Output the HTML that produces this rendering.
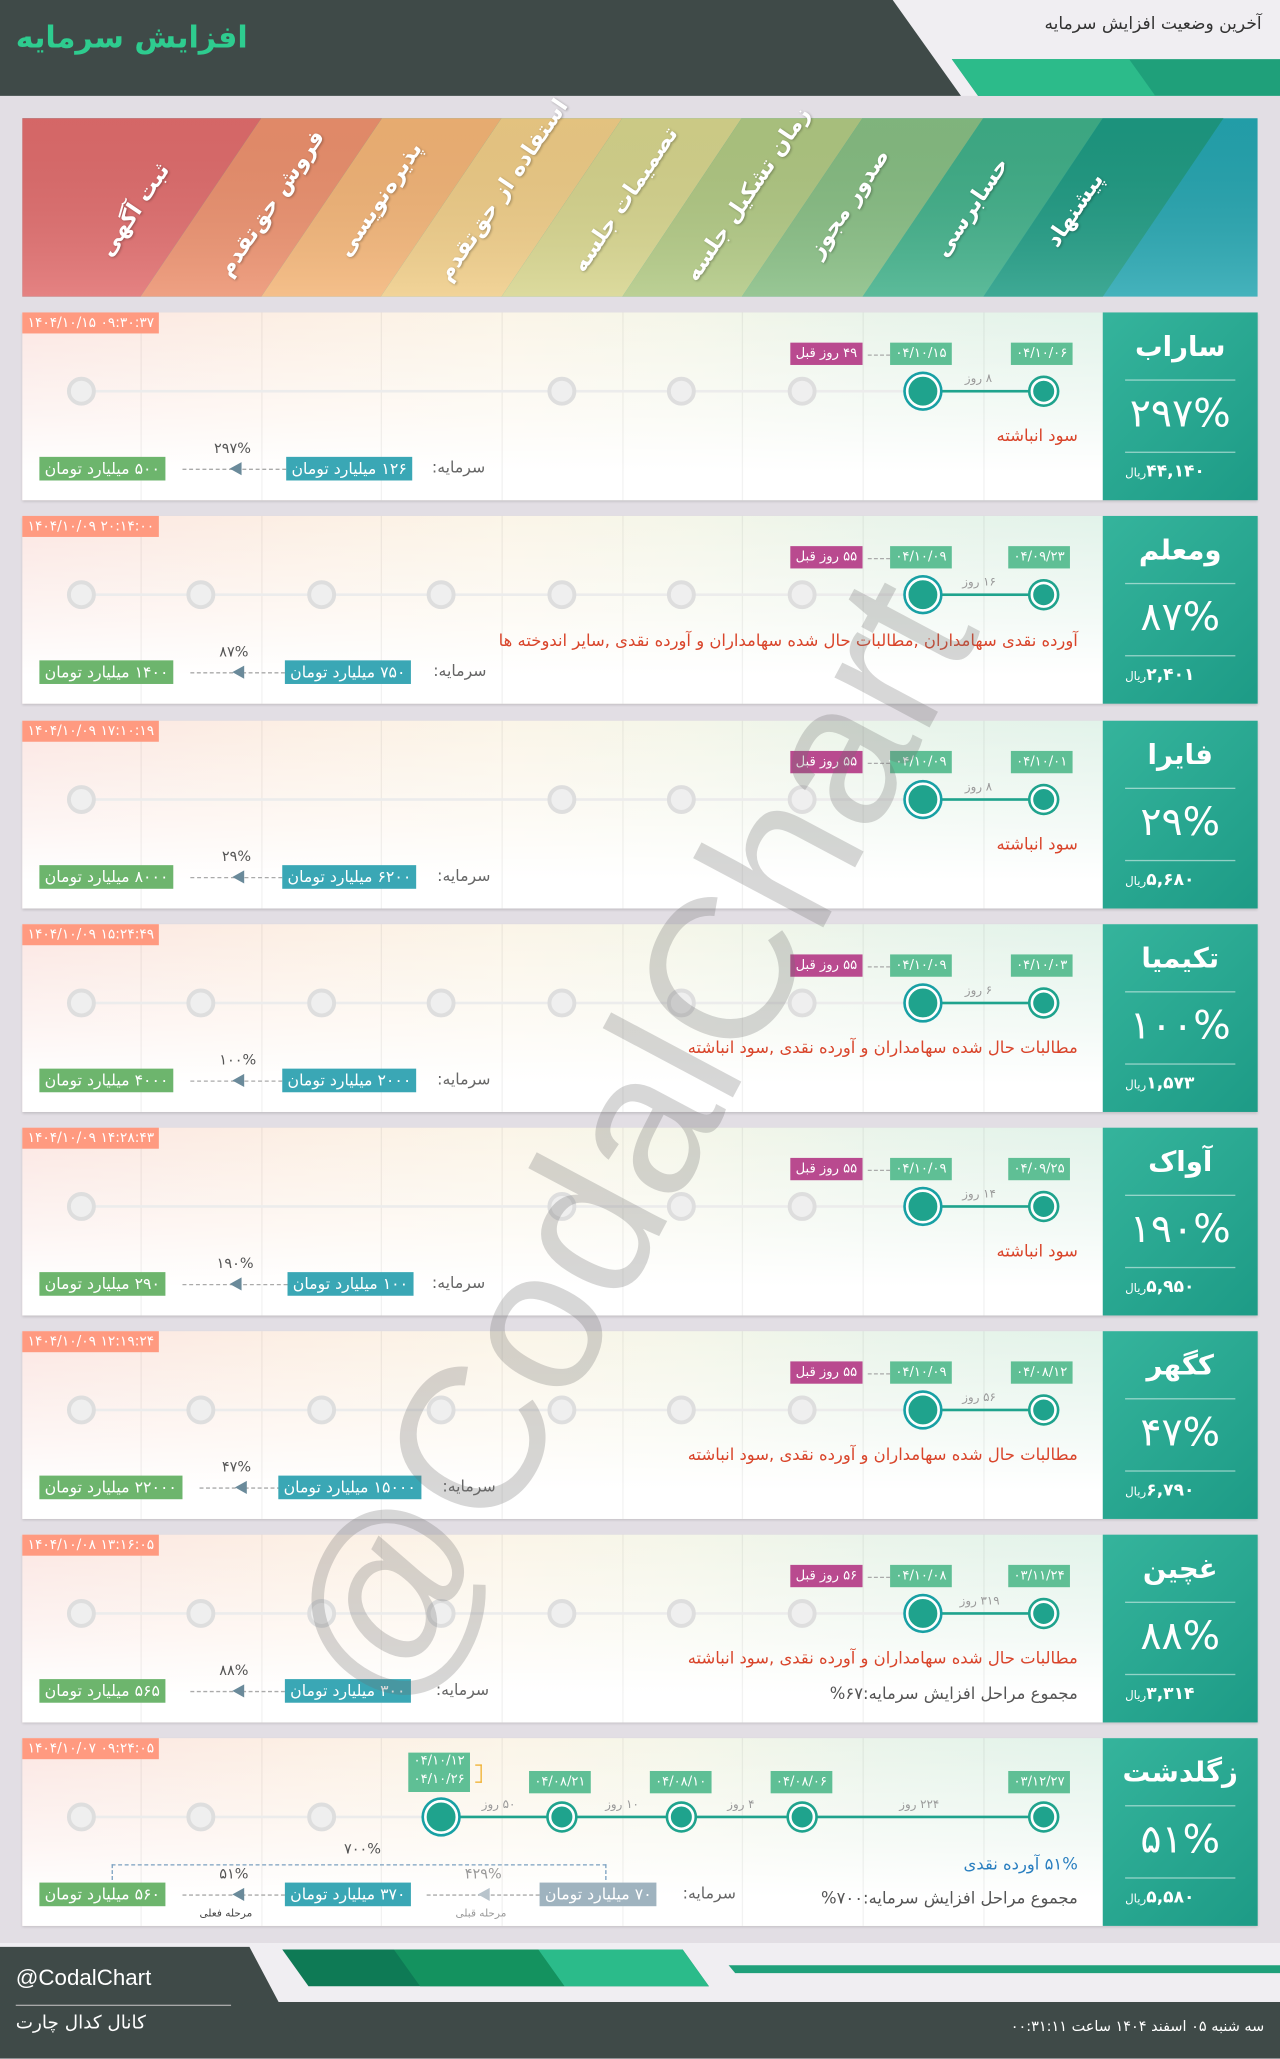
<!DOCTYPE html>
<html><head><meta charset="utf-8">
<style>
*{margin:0;padding:0;box-sizing:border-box}
html,body{width:1280px;height:2058px;overflow:hidden;background:#e2dee4}
#w{position:absolute;left:0;top:0;width:975px;height:1568px;transform:scale(1.31282);transform-origin:0 0;font-family:"DejaVu Sans","Liberation Sans",sans-serif;background:#e2dee4;overflow:hidden}
.ab{position:absolute}
.row{position:absolute;left:17px;width:941px;height:143px;box-shadow:0 1px 2px rgba(0,0,0,.15)}
.rbg{position:absolute;left:0;top:0;width:823px;height:143px;background:linear-gradient(90deg,#fbe6e2 0%,#fcefe4 25%,#fbf5e8 45%,#f4f6e9 62%,#e9f4ea 80%,#e2f3ea 100%)}
.rbg:after{content:"";position:absolute;left:0;top:0;right:0;bottom:0;background:linear-gradient(180deg,rgba(255,255,255,0) 0%,rgba(255,255,255,.6) 55%,#fff 85%)}
.vl{position:absolute;top:0;width:1px;height:143px;background:rgba(0,0,0,.05)}
.pan{position:absolute;left:823px;top:0;width:118px;height:143px;background:linear-gradient(135deg,#35b49c,#1d9b86);color:#fff;text-align:center}
.pan .n{position:absolute;left:0;right:0;top:14px;font-size:21px;font-weight:bold}
.pan .l1,.pan .l2{position:absolute;left:17px;width:84px;height:1px;background:rgba(255,255,255,.5)}
.pan .l1{top:51px}.pan .l2{top:106px}
.pan .p{position:absolute;left:0;right:0;top:60px;font-size:30px}
.pan .pr{position:absolute;left:17px;top:114px;font-size:13px;font-weight:bold;direction:rtl;text-align:left;width:84px}
.pan .pr small{font-size:9px;font-weight:normal}
.ts{position:absolute;left:0;top:0;height:16px;background:#ff9a80;color:#fff;font-size:10.5px;line-height:16px;padding:0 4px;direction:ltr}
.gl{position:absolute;left:45px;width:641px;top:59px;height:2px;background:#ececec}
.c{position:absolute;top:49px;width:22px;height:22px;margin-left:-11px;border-radius:50%;border:3px solid #dedede;background:#efefef}
.a1{position:absolute;top:47px;width:26px;height:26px;margin-left:-13px;border-radius:50%;background:#1fa38d;border:2px solid #fff;box-shadow:0 0 0 2px #18a0a4}
.a2{position:absolute;top:50px;width:20px;height:20px;margin-left:-10px;border-radius:50%;background:#1fa38d;border:2px solid #fff;box-shadow:0 0 0 2px #1fa38d}
.tl{position:absolute;top:59px;height:2px;background:#1fa38d}
.dd{position:absolute;top:68px;font-size:9px;color:#999;direction:rtl}
.gb{position:absolute;height:17px;line-height:17px;font-size:10px;color:#fff;background:#5fbf95;padding:0 4px;direction:rtl;white-space:nowrap}
.mb{background:#b94a8f}
.ds{position:absolute;height:0;border-top:1px dashed #aaa}
.rt{position:absolute;right:137px;font-size:12.5px;color:#d9452b;direction:rtl;white-space:nowrap}
.bt{position:absolute;font-size:12.5px;color:#555;direction:rtl;white-space:nowrap}
.gg{position:absolute;top:110px;height:18px;line-height:18px;font-size:12px;color:#fff;background:#6db56d;padding:0 4px;direction:rtl;white-space:nowrap}
.tb{background:#3aa7b5}
.sr{position:absolute;top:111px;font-size:12px;color:#666;direction:rtl}
.tri{position:absolute;top:114px;width:0;height:0;border-top:5px solid transparent;border-bottom:5px solid transparent;border-right:9px solid #6a8a9a}
.pc{position:absolute;top:97px;font-size:11px;color:#555}
</style></head><body><div id="w">

<div class="ab" style="left:0;top:0;width:975px;height:73px;background:#f0eef2"></div>
<svg class="ab" style="left:0;top:0" width="975" height="80">
<polygon points="0,0 680,0 732,73 0,73" fill="#3f4a48"/>
<polygon points="725,45 975,45 975,73 745,73" fill="#1fa07a"/>
<polygon points="725,45 860,45 880,73 745,73" fill="#2cbb8a"/>
</svg>
<div class="ab" style="left:12px;top:16px;font-size:23px;font-weight:bold;color:#2ecc8f;direction:rtl">افزایش سرمایه</div>
<div class="ab" style="right:14px;top:11px;font-size:13px;color:#333;direction:rtl">آخرین وضعیت افزایش سرمایه</div>

<svg class="ab" style="left:17px;top:90px" width="941" height="136">
<defs><clipPath id="cp"><rect width="941" height="136"/></clipPath>
<linearGradient id="fd" x1="0" y1="0" x2="0" y2="1"><stop offset="0" stop-color="#000" stop-opacity=".05"/><stop offset="1" stop-color="#fff" stop-opacity=".15"/></linearGradient></defs>
<g clip-path="url(#cp)">
<rect width="941" height="136" fill="#24a5b0"/>
<polygon points="-100,0 182,0 90,136 -100,136" fill="#e06c6c"/>
<polygon points="182,0 274,0 182,136 90,136" fill="#ec906d"/>
<polygon points="274,0 365,0 273,136 182,136" fill="#f3b476"/>
<polygon points="365,0 457,0 365,136 273,136" fill="#efcc86"/>
<polygon points="457,0 548,0 457,136 365,136" fill="#d6d48c"/>
<polygon points="548,0 640,0 548,136 457,136" fill="#b0c882"/>
<polygon points="640,0 732,0 640,136 548,136" fill="#86bd82"/>
<polygon points="732,0 823,0 732,136 640,136" fill="#3faf88"/>
<polygon points="823,0 915,0 823,136 732,136" fill="#1d9a82"/>
<rect width="941" height="136" fill="url(#fd)"/>
</g>
</svg>
<div class="ab" style="left:17px;top:90px;width:941px;height:136px;color:#fff;font-weight:bold;font-size:17px;text-shadow:0 1px 2px rgba(0,0,0,.3)">
<div class="ab" style="left:45px;top:60px;transform:rotate(-56deg);white-space:nowrap;direction:rtl">ثبت آگهی</div>
<div class="ab" style="left:125px;top:55px;transform:rotate(-56deg);white-space:nowrap;direction:rtl">فروش حق‌تقدم</div>
<div class="ab" style="left:222px;top:52px;transform:rotate(-56deg);white-space:nowrap;direction:rtl">پذیره‌نویسی</div>
<div class="ab" style="left:285px;top:45px;transform:rotate(-56deg);white-space:nowrap;direction:rtl">استفاده از حق‌تقدم</div>
<div class="ab" style="left:395px;top:52px;transform:rotate(-56deg);white-space:nowrap;direction:rtl">تصمیمات جلسه</div>
<div class="ab" style="left:475px;top:48px;transform:rotate(-56deg);white-space:nowrap;direction:rtl">زمان تشکیل جلسه</div>
<div class="ab" style="left:582px;top:55px;transform:rotate(-56deg);white-space:nowrap;direction:rtl">صدور مجوز</div>
<div class="ab" style="left:680px;top:58px;transform:rotate(-56deg);white-space:nowrap;direction:rtl">حسابرسی</div>
<div class="ab" style="left:770px;top:60px;transform:rotate(-56deg);white-space:nowrap;direction:rtl">پیشنهاد</div>
</div>

<div class="row" style="top:238px">
<div class="rbg"></div>
<div class="vl" style="left:90px"></div><div class="vl" style="left:182px"></div><div class="vl" style="left:273px"></div><div class="vl" style="left:365px"></div><div class="vl" style="left:457px"></div><div class="vl" style="left:548px"></div><div class="vl" style="left:640px"></div><div class="vl" style="left:732px"></div>
<div class="ts">۱۴۰۴/۱۰/۱۵ ۰۹:۳۰:۳۷</div>
<div class="gl"></div>
<div class="c" style="left:45px"></div><div class="c" style="left:411px"></div><div class="c" style="left:502px"></div><div class="c" style="left:594px"></div>
<div class="tl" style="left:686px;width:92px"></div>
<div class="a1" style="left:686px"></div><div class="a2" style="left:778px"></div>
<div class="dd" style="left:718px;top:46px">۸ روز</div>
<div class="gb" style="left:753px;top:23px">۰۴/۱۰/۰۶</div>
<div class="gb" style="left:661px;top:23px">۰۴/۱۰/۱۵</div>
<div class="ds" style="left:644px;width:17px;top:32px"></div>
<div class="gb mb" style="left:585px;top:23px">۴۹ روز قبل</div>
<div class="rt" style="top:86px">سود انباشته</div>
<div class="gg" style="left:13px">۵۰۰ میلیارد تومان</div>
<div class="ds" style="left:122px;width:79px;top:119px"></div><div class="tri" style="left:158px"></div>
<div class="pc" style="left:146px">۲۹۷%</div>
<div class="gg tb" style="left:201px">۱۲۶ میلیارد تومان</div>
<div class="sr" style="left:312px">سرمایه:</div>
<div class="pan"><div class="n">ساراب</div><div class="l1"></div><div class="p">۲۹۷%</div><div class="l2"></div><div class="pr">۴۴,۱۴۰<small>ریال</small></div></div>
</div>

<div class="row" style="top:393px">
<div class="rbg"></div>
<div class="vl" style="left:90px"></div><div class="vl" style="left:182px"></div><div class="vl" style="left:273px"></div><div class="vl" style="left:365px"></div><div class="vl" style="left:457px"></div><div class="vl" style="left:548px"></div><div class="vl" style="left:640px"></div><div class="vl" style="left:732px"></div>
<div class="ts">۱۴۰۴/۱۰/۰۹ ۲۰:۱۴:۰۰</div>
<div class="gl"></div>
<div class="c" style="left:45px"></div><div class="c" style="left:136px"></div><div class="c" style="left:228px"></div><div class="c" style="left:319px"></div><div class="c" style="left:411px"></div><div class="c" style="left:502px"></div><div class="c" style="left:594px"></div>
<div class="tl" style="left:686px;width:92px"></div>
<div class="a1" style="left:686px"></div><div class="a2" style="left:778px"></div>
<div class="dd" style="left:716px;top:46px">۱۶ روز</div>
<div class="gb" style="left:751px;top:23px">۰۴/۰۹/۲۳</div>
<div class="gb" style="left:661px;top:23px">۰۴/۱۰/۰۹</div>
<div class="ds" style="left:644px;width:17px;top:32px"></div>
<div class="gb mb" style="left:585px;top:23px">۵۵ روز قبل</div>
<div class="rt" style="top:87px">آورده نقدی سهامداران ,مطالبات حال شده سهامداران و آورده نقدی ,سایر اندوخته ها</div>
<div class="gg" style="left:13px">۱۴۰۰ میلیارد تومان</div>
<div class="ds" style="left:128px;width:72px;top:119px"></div><div class="tri" style="left:160px"></div>
<div class="pc" style="left:150px">۸۷%</div>
<div class="gg tb" style="left:200px">۷۵۰ میلیارد تومان</div>
<div class="sr" style="left:313px">سرمایه:</div>
<div class="pan"><div class="n">ومعلم</div><div class="l1"></div><div class="p">۸۷%</div><div class="l2"></div><div class="pr">۲,۴۰۱<small>ریال</small></div></div>
</div>

<div class="row" style="top:549px">
<div class="rbg"></div>
<div class="vl" style="left:90px"></div><div class="vl" style="left:182px"></div><div class="vl" style="left:273px"></div><div class="vl" style="left:365px"></div><div class="vl" style="left:457px"></div><div class="vl" style="left:548px"></div><div class="vl" style="left:640px"></div><div class="vl" style="left:732px"></div>
<div class="ts">۱۴۰۴/۱۰/۰۹ ۱۷:۱۰:۱۹</div>
<div class="gl"></div>
<div class="c" style="left:45px"></div><div class="c" style="left:411px"></div><div class="c" style="left:502px"></div><div class="c" style="left:594px"></div>
<div class="tl" style="left:686px;width:92px"></div>
<div class="a1" style="left:686px"></div><div class="a2" style="left:778px"></div>
<div class="dd" style="left:718px;top:46px">۸ روز</div>
<div class="gb" style="left:753px;top:23px">۰۴/۱۰/۰۱</div>
<div class="gb" style="left:661px;top:23px">۰۴/۱۰/۰۹</div>
<div class="ds" style="left:644px;width:17px;top:32px"></div>
<div class="gb mb" style="left:585px;top:23px">۵۵ روز قبل</div>
<div class="rt" style="top:86px">سود انباشته</div>
<div class="gg" style="left:13px">۸۰۰۰ میلیارد تومان</div>
<div class="ds" style="left:128px;width:70px;top:119px"></div><div class="tri" style="left:160px"></div>
<div class="pc" style="left:152px">۲۹%</div>
<div class="gg tb" style="left:198px">۶۲۰۰ میلیارد تومان</div>
<div class="sr" style="left:316px">سرمایه:</div>
<div class="pan"><div class="n">فایرا</div><div class="l1"></div><div class="p">۲۹%</div><div class="l2"></div><div class="pr">۵,۶۸۰<small>ریال</small></div></div>
</div>

<div class="row" style="top:704px">
<div class="rbg"></div>
<div class="vl" style="left:90px"></div><div class="vl" style="left:182px"></div><div class="vl" style="left:273px"></div><div class="vl" style="left:365px"></div><div class="vl" style="left:457px"></div><div class="vl" style="left:548px"></div><div class="vl" style="left:640px"></div><div class="vl" style="left:732px"></div>
<div class="ts">۱۴۰۴/۱۰/۰۹ ۱۵:۲۴:۴۹</div>
<div class="gl"></div>
<div class="c" style="left:45px"></div><div class="c" style="left:136px"></div><div class="c" style="left:228px"></div><div class="c" style="left:319px"></div><div class="c" style="left:411px"></div><div class="c" style="left:502px"></div><div class="c" style="left:594px"></div>
<div class="tl" style="left:686px;width:92px"></div>
<div class="a1" style="left:686px"></div><div class="a2" style="left:778px"></div>
<div class="dd" style="left:718px;top:46px">۶ روز</div>
<div class="gb" style="left:753px;top:23px">۰۴/۱۰/۰۳</div>
<div class="gb" style="left:661px;top:23px">۰۴/۱۰/۰۹</div>
<div class="ds" style="left:644px;width:17px;top:32px"></div>
<div class="gb mb" style="left:585px;top:23px">۵۵ روز قبل</div>
<div class="rt" style="top:86px">مطالبات حال شده سهامداران و آورده نقدی ,سود انباشته</div>
<div class="gg" style="left:13px">۴۰۰۰ میلیارد تومان</div>
<div class="ds" style="left:128px;width:70px;top:119px"></div><div class="tri" style="left:160px"></div>
<div class="pc" style="left:150px">۱۰۰%</div>
<div class="gg tb" style="left:198px">۲۰۰۰ میلیارد تومان</div>
<div class="sr" style="left:316px">سرمایه:</div>
<div class="pan"><div class="n">تکیمیا</div><div class="l1"></div><div class="p">۱۰۰%</div><div class="l2"></div><div class="pr">۱,۵۷۳<small>ریال</small></div></div>
</div>

<div class="row" style="top:859px">
<div class="rbg"></div>
<div class="vl" style="left:90px"></div><div class="vl" style="left:182px"></div><div class="vl" style="left:273px"></div><div class="vl" style="left:365px"></div><div class="vl" style="left:457px"></div><div class="vl" style="left:548px"></div><div class="vl" style="left:640px"></div><div class="vl" style="left:732px"></div>
<div class="ts">۱۴۰۴/۱۰/۰۹ ۱۴:۲۸:۴۳</div>
<div class="gl"></div>
<div class="c" style="left:45px"></div><div class="c" style="left:411px"></div><div class="c" style="left:502px"></div><div class="c" style="left:594px"></div>
<div class="tl" style="left:686px;width:92px"></div>
<div class="a1" style="left:686px"></div><div class="a2" style="left:778px"></div>
<div class="dd" style="left:716px;top:46px">۱۴ روز</div>
<div class="gb" style="left:751px;top:23px">۰۴/۰۹/۲۵</div>
<div class="gb" style="left:661px;top:23px">۰۴/۱۰/۰۹</div>
<div class="ds" style="left:644px;width:17px;top:32px"></div>
<div class="gb mb" style="left:585px;top:23px">۵۵ روز قبل</div>
<div class="rt" style="top:86px">سود انباشته</div>
<div class="gg" style="left:13px">۲۹۰ میلیارد تومان</div>
<div class="ds" style="left:122px;width:80px;top:119px"></div><div class="tri" style="left:158px"></div>
<div class="pc" style="left:148px">۱۹۰%</div>
<div class="gg tb" style="left:202px">۱۰۰ میلیارد تومان</div>
<div class="sr" style="left:312px">سرمایه:</div>
<div class="pan"><div class="n">آواک</div><div class="l1"></div><div class="p">۱۹۰%</div><div class="l2"></div><div class="pr">۵,۹۵۰<small>ریال</small></div></div>
</div>

<div class="row" style="top:1014px">
<div class="rbg"></div>
<div class="vl" style="left:90px"></div><div class="vl" style="left:182px"></div><div class="vl" style="left:273px"></div><div class="vl" style="left:365px"></div><div class="vl" style="left:457px"></div><div class="vl" style="left:548px"></div><div class="vl" style="left:640px"></div><div class="vl" style="left:732px"></div>
<div class="ts">۱۴۰۴/۱۰/۰۹ ۱۲:۱۹:۲۴</div>
<div class="gl"></div>
<div class="c" style="left:45px"></div><div class="c" style="left:136px"></div><div class="c" style="left:228px"></div><div class="c" style="left:319px"></div><div class="c" style="left:411px"></div><div class="c" style="left:502px"></div><div class="c" style="left:594px"></div>
<div class="tl" style="left:686px;width:92px"></div>
<div class="a1" style="left:686px"></div><div class="a2" style="left:778px"></div>
<div class="dd" style="left:716px;top:46px">۵۶ روز</div>
<div class="gb" style="left:753px;top:23px">۰۴/۰۸/۱۲</div>
<div class="gb" style="left:661px;top:23px">۰۴/۱۰/۰۹</div>
<div class="ds" style="left:644px;width:17px;top:32px"></div>
<div class="gb mb" style="left:585px;top:23px">۵۵ روز قبل</div>
<div class="rt" style="top:86px">مطالبات حال شده سهامداران و آورده نقدی ,سود انباشته</div>
<div class="gg" style="left:13px">۲۲۰۰۰ میلیارد تومان</div>
<div class="ds" style="left:135px;width:62px;top:119px"></div><div class="tri" style="left:162px"></div>
<div class="pc" style="left:152px">۴۷%</div>
<div class="gg tb" style="left:195px">۱۵۰۰۰ میلیارد تومان</div>
<div class="sr" style="left:320px">سرمایه:</div>
<div class="pan"><div class="n">کگهر</div><div class="l1"></div><div class="p">۴۷%</div><div class="l2"></div><div class="pr">۶,۷۹۰<small>ریال</small></div></div>
</div>

<div class="row" style="top:1169px">
<div class="rbg"></div>
<div class="vl" style="left:90px"></div><div class="vl" style="left:182px"></div><div class="vl" style="left:273px"></div><div class="vl" style="left:365px"></div><div class="vl" style="left:457px"></div><div class="vl" style="left:548px"></div><div class="vl" style="left:640px"></div><div class="vl" style="left:732px"></div>
<div class="ts">۱۴۰۴/۱۰/۰۸ ۱۳:۱۶:۰۵</div>
<div class="gl"></div>
<div class="c" style="left:45px"></div><div class="c" style="left:136px"></div><div class="c" style="left:228px"></div><div class="c" style="left:319px"></div><div class="c" style="left:411px"></div><div class="c" style="left:502px"></div><div class="c" style="left:594px"></div>
<div class="tl" style="left:686px;width:92px"></div>
<div class="a1" style="left:686px"></div><div class="a2" style="left:778px"></div>
<div class="dd" style="left:714px;top:46px">۳۱۹ روز</div>
<div class="gb" style="left:751px;top:23px">۰۳/۱۱/۲۴</div>
<div class="gb" style="left:661px;top:23px">۰۴/۱۰/۰۸</div>
<div class="ds" style="left:644px;width:17px;top:32px"></div>
<div class="gb mb" style="left:585px;top:23px">۵۶ روز قبل</div>
<div class="rt" style="top:86px">مطالبات حال شده سهامداران و آورده نقدی ,سود انباشته</div>
<div class="bt" style="right:137px;top:113px">مجموع مراحل افزایش سرمایه:۶۷%</div>
<div class="gg" style="left:13px">۵۶۵ میلیارد تومان</div>
<div class="ds" style="left:128px;width:72px;top:119px"></div><div class="tri" style="left:160px"></div>
<div class="pc" style="left:150px">۸۸%</div>
<div class="gg tb" style="left:200px">۳۰۰ میلیارد تومان</div>
<div class="sr" style="left:315px">سرمایه:</div>
<div class="pan"><div class="n">غچین</div><div class="l1"></div><div class="p">۸۸%</div><div class="l2"></div><div class="pr">۳,۳۱۴<small>ریال</small></div></div>
</div>

<div class="row" style="top:1324px">
<div class="rbg"></div>
<div class="vl" style="left:90px"></div><div class="vl" style="left:182px"></div><div class="vl" style="left:273px"></div><div class="vl" style="left:365px"></div><div class="vl" style="left:457px"></div><div class="vl" style="left:548px"></div><div class="vl" style="left:640px"></div><div class="vl" style="left:732px"></div>
<div class="ts">۱۴۰۴/۱۰/۰۷ ۰۹:۲۴:۰۵</div>
<div class="gl"></div>
<div class="c" style="left:45px"></div><div class="c" style="left:136px"></div><div class="c" style="left:228px"></div>
<div class="tl" style="left:319px;width:459px"></div>
<div class="a1" style="left:319px"></div><div class="a2" style="left:411px"></div><div class="a2" style="left:502px"></div><div class="a2" style="left:594px"></div><div class="a2" style="left:778px"></div>
<div class="dd" style="left:350px;top:46px">۵۰ روز</div>
<div class="dd" style="left:444px;top:46px">۱۰ روز</div>
<div class="dd" style="left:537px;top:46px">۴ روز</div>
<div class="dd" style="left:668px;top:46px">۲۲۴ روز</div>
<div class="gb" style="left:751px;top:25px">۰۳/۱۲/۲۷</div>
<div class="gb" style="left:570px;top:25px">۰۴/۰۸/۰۶</div>
<div class="gb" style="left:478px;top:25px">۰۴/۰۸/۱۰</div>
<div class="gb" style="left:386px;top:25px">۰۴/۰۸/۲۱</div>
<div class="gb" style="left:294px;top:11px;height:30px;line-height:14px;text-align:center">۰۴/۱۰/۱۲<br>۰۴/۱۰/۲۶</div>
<div class="ab" style="left:345px;top:20px;width:5px;height:14px;border:1px solid #f0b030;border-left:none"></div>
<div class="rt" style="top:88px;color:#2a7fc0">۵۱% آورده نقدی</div>
<div class="bt" style="right:137px;top:114px">مجموع مراحل افزایش سرمایه:۷۰۰%</div>
<div class="ab" style="left:68px;top:96px;width:377px;height:12px;border:1px dashed #7aa0c0;border-bottom:none"></div>
<div class="pc" style="left:245px;top:78px">۷۰۰%</div>
<div class="gg" style="left:13px">۵۶۰ میلیارد تومان</div>
<div class="ds" style="left:122px;width:78px;top:119px"></div><div class="tri" style="left:160px"></div>
<div class="pc" style="left:150px">۵۱%</div>
<div class="ab" style="left:135px;top:129px;font-size:8px;color:#444;direction:rtl">مرحله فعلی</div>
<div class="gg tb" style="left:200px">۳۷۰ میلیارد تومان</div>
<div class="ds" style="left:308px;width:86px;top:119px"></div><div class="tri" style="left:347px;border-right-color:#b8c4cc"></div>
<div class="pc" style="left:337px;color:#999">۴۲۹%</div>
<div class="ab" style="left:330px;top:129px;font-size:8px;color:#999;direction:rtl">مرحله قبلی</div>
<div class="gg" style="left:394px;background:#9fb3bf">۷۰ میلیارد تومان</div>
<div class="sr" style="left:503px">سرمایه:</div>
<div class="pan"><div class="n">زگلدشت</div><div class="l1"></div><div class="p">۵۱%</div><div class="l2"></div><div class="pr">۵,۵۸۰<small>ریال</small></div></div>
</div>

<div class="ab" style="left:470px;top:900px;width:0;height:0">
<div class="ab" style="left:-450px;top:-100px;width:900px;font-size:155px;color:rgba(110,110,110,.28);transform:rotate(-62deg);white-space:nowrap;font-family:'Liberation Sans',sans-serif;text-align:center">@CodalChart</div>
</div>

<svg class="ab" style="left:0;top:1480px" width="975" height="88">
<rect x="0" y="0" width="975" height="88" fill="#f0eef2"/>
<polygon points="0,3 190,3 235,88 0,88" fill="#3f4a48"/>
<polygon points="215,5 520,5 540,33 235,33" fill="#0e7a55"/>
<polygon points="300,5 410,5 430,33 320,33" fill="#14925f"/>
<polygon points="410,5 520,5 540,33 430,33" fill="#2bbb8a"/>
<polygon points="555,17 975,17 975,23 560,23" fill="#1fa07a"/>
<polygon points="210,45 975,45 975,88 232,88" fill="#3f4a48"/>
</svg>
<div class="ab" style="left:12px;top:1497px;font-size:17px;color:#fff;font-family:'Liberation Sans',sans-serif">@CodalChart</div>
<div class="ab" style="left:12px;top:1527px;width:164px;height:1px;background:#aaa"></div>
<div class="ab" style="left:12px;top:1533px;font-size:14px;color:#fff;direction:rtl">کانال کدال چارت</div>
<div class="ab" style="right:12px;top:1537px;font-size:11px;color:#fff;direction:rtl">سه شنبه ۰۵ اسفند ۱۴۰۴ ساعت ۰۰:۳۱:۱۱</div>
</div></body></html>
